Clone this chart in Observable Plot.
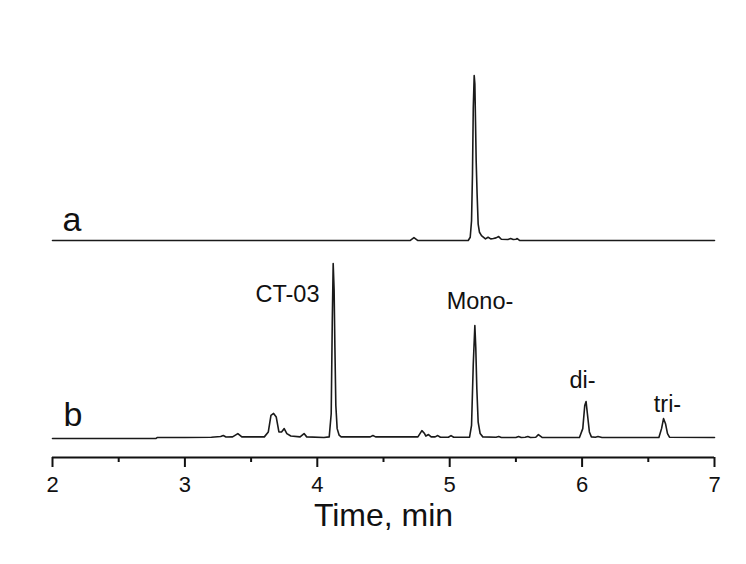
<!DOCTYPE html>
<html>
<head>
<meta charset="utf-8">
<script src="https://cdn.jsdelivr.net/npm/d3@7"></script>
<script src="https://cdn.jsdelivr.net/npm/@observablehq/plot@0.6"></script>
<style>
  html, body { margin: 0; padding: 0; background: #fff; }
</style>
</head>
<body>
<div id="chart"></div>
<script>
// Trace a (time in min, relative intensity)
const aTime  = [2.00, 4.70, 4.73, 4.76, 5.14, 5.155, 5.165, 5.172, 5.178, 5.185, 5.19, 5.195, 5.20, 5.207, 5.215, 5.225, 5.24, 5.27, 5.29, 5.31, 5.33, 5.35, 5.37, 5.39, 5.44, 5.46, 5.48, 5.50, 5.51, 5.53, 7.00];
const aValue = [0,    0,    1.8,  0,    0,    2,     12,    40,    80,    100,   95,   72,    48,   28,    10,    5,     3,    1,    2,    1,    1.2,  1.6,  2.4,  0.8,  0.6,  1.2,  0.6,  0.8,  1.2,  0,    0];

// Trace b
const bTime  = [2.00, 2.78, 2.79, 3.00, 3.20, 3.27, 3.29, 3.31, 3.36, 3.40, 3.43, 3.60, 3.63, 3.65, 3.67, 3.69, 3.71, 3.73, 3.75, 3.77, 3.80, 3.87, 3.90, 3.92, 4.05, 4.09, 4.105, 4.113, 4.12, 4.127, 4.133, 4.14, 4.15, 4.165, 4.18, 4.40, 4.42, 4.44, 4.76, 4.79, 4.81, 4.82, 4.84, 4.86, 4.89, 4.91, 4.93, 4.99, 5.01, 5.03, 5.15, 5.165, 5.178, 5.19, 5.197, 5.205, 5.215, 5.23, 5.25, 5.35, 5.37, 5.39, 5.50, 5.52, 5.54, 5.57, 5.59, 5.61, 5.65, 5.67, 5.70, 5.98, 6.005, 6.02, 6.03, 6.04, 6.055, 6.07, 6.10, 6.12, 6.15, 6.58, 6.60, 6.615, 6.63, 6.645, 6.66, 7.00];
const bValue = [0,    0,    0.6,  0.6,  0.8,  1.2,  1.8,  0.9,  1.0,  3.0,  1.0,  1.0,  4,    14,   15.2, 13,   4,    4,    6,    3,    1.5,  1.0,  3.0,  1.0,  0.6,  1.0,  15,    70,    106,   90,    55,    20,   6,    2,     1,    1,    1.8,  1,    1,    4.8,  3,    1.5,  2.4,  1,    1,    1.8,  0.8,  0.8,  1.8,  0.8,  0.8,  8,     45,    68.5, 55,    30,    10,    3,    1,    0.8,  1.2,  0.6,  0.6,  1.2,  0.6,  0.8,  1.2,  0.6,  0.8,  2.4,  0.6,  0.6,  6,     20,   22.4, 15,   4,     1,    0.8,  1.2,  0.6,  0.6,  6,    12.1,  9,    3,     0.8,  0.6];

// Peak labels (text, anchor time, anchor intensity)
const peakText  = ["CT-03", "Mono-", "di-", "tri-"];
const peakTime  = [3.775, 5.229, 6.003, 6.645];
const peakLevel = [83, 78.8, 30.9, 15.8];

// Trace labels
const traceNames = ["a", "b"];
const traceLabelTime  = [2.147, 2.155];
const traceLabelLevel = [6, 7.3];

// Axis ticks
const majorTicks = [2, 3, 4, 5, 6, 7];
const minorTicks = [2.5, 3.5, 4.5, 5.5, 6.5];
const xLabel = "Time, min";

const rows = [
  ...aTime.map((t, i) => ({trace: "a", t, v: aValue[i]})),
  ...bTime.map((t, i) => ({trace: "b", t, v: bValue[i]}))
];
const peaks = peakText.map((s, i) => ({trace: "b", s, t: peakTime[i], v: peakLevel[i]}));
const traceLabels = traceNames.map((s, i) => ({trace: s, s, t: traceLabelTime[i], v: traceLabelLevel[i]}));

const chart = Plot.plot({
  width: 746,
  height: 564,
  marginLeft: 52,
  marginRight: 32,
  marginTop: 61,
  marginBottom: 107,
  style: {fontFamily: "'Liberation Sans', Arial, sans-serif", background: "#fff", color: "#111"},
  x: {domain: [2, 7]},
  y: {domain: [-11.5, 108.5], axis: null},
  fy: {domain: traceNames, axis: null, padding: 0},
  marks: [
    Plot.line(rows, {x: "t", y: "v", fy: "trace", stroke: "#1a1a1a", strokeWidth: 1.6}),
    Plot.text(peaks, {x: "t", y: "v", fy: "trace", text: "s", fontSize: 23.5, lineAnchor: "bottom", fill: "#111"}),
    Plot.text(traceLabels, {x: "t", y: "v", fy: "trace", text: "s", fontSize: 34, lineAnchor: "bottom", fill: "#111"}),
    Plot.ruleY([{y: -11.5, trace: "b"}], {y: "y", fy: "trace", stroke: "#111", strokeWidth: 2}),
    Plot.axisX({ticks: minorTicks, tickSize: 5, tickFormat: () => "", label: null, strokeWidth: 2}),
    Plot.axisX({ticks: majorTicks, tickSize: 10, tickPadding: 9, tickFormat: "d", fontSize: 22, label: null, strokeWidth: 2}),
    Plot.axisX({ticks: [], label: xLabel, labelAnchor: "center", labelOffset: 68, fontSize: 32, labelArrow: "none"})
  ]
});
document.getElementById("chart").appendChild(chart);
</script>
</body>
</html>
